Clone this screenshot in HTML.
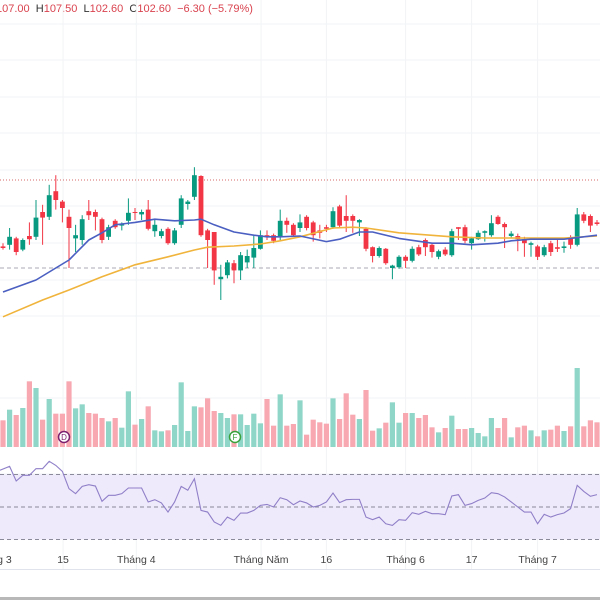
<!DOCTYPE html>
<html><head><meta charset="utf-8">
<style>
html,body{margin:0;padding:0;background:#fff;width:600px;height:600px;overflow:hidden;font-family:"Liberation Sans",sans-serif;}
#hdr{position:absolute;left:-4px;top:3px;font-size:11px;color:#d9434f;white-space:nowrap;}
#hdr b{font-weight:normal;color:#333;}
svg{position:absolute;left:0;top:0;}
</style></head>
<body>
<div id="hdr">107.00 &nbsp;<b>H</b>107.50 &nbsp;<b>L</b>102.60 &nbsp;<b>C</b>102.60 &nbsp;−6.30 (−5.79%)</div>
<svg id="chart" width="600" height="600"></svg>
<script>
const opens=[99.2,99.4,100.2,98.8,100.5,100.4,103.5,102.9,106.1,104.8,102.9,100.2,100.0,103.6,103.5,102.6,100.4,102.4,101.8,102.4,103.5,103.2,103.8,101.1,100.5,101.4,99.6,101.9,104.5,105.4,108.0,101.2,101.0,95.1,95.6,97.1,96.2,97.2,97.8,98.9,100.6,100.6,100.4,102.4,101.9,101.5,102.9,102.2,101.2,101.6,101.6,104.2,103.0,103.0,102.2,101.4,99.1,98.0,98.9,96.5,96.6,97.9,97.4,99.1,100.0,99.4,97.9,98.8,98.1,101.6,101.6,99.6,100.1,100.9,100.6,102.9,102.0,100.5,100.5,100.1,99.4,99.2,98.1,99.6,99.1,99.0,100.2,99.4,103.2,103.0,102.2];
const highs=[99.6,101.5,100.4,100.2,102.2,105.0,104.4,106.9,108.1,105.0,103.8,101.9,103.1,105.0,103.8,102.8,101.9,102.6,102.2,105.2,104.0,103.8,105.0,102.5,101.4,101.6,101.5,105.6,105.0,109.1,108.1,101.4,101.0,96.9,97.5,97.5,98.5,98.8,100.6,101.2,101.2,100.8,103.8,102.8,102.1,103.2,103.1,102.4,101.9,101.9,104.1,104.4,105.6,103.2,102.6,101.6,99.2,99.2,99.0,96.9,98.1,98.1,99.2,99.4,100.2,99.6,98.8,99.1,101.4,101.6,101.9,100.4,101.2,101.2,103.1,103.1,102.2,101.1,100.8,100.4,99.8,99.4,99.4,99.9,100.2,99.8,100.6,104.0,103.5,103.2,102.5];
const lows=[98.8,98.8,98.1,98.6,99.4,100.0,99.4,102.5,103.8,102.2,96.5,98.5,99.4,102.5,101.2,99.6,100.0,101.4,101.2,101.9,102.5,102.5,101.2,100.4,100.2,99.4,99.4,101.5,103.8,105.0,100.4,96.5,94.4,92.5,95.2,94.6,95.0,96.5,96.5,98.8,100.0,99.6,100.0,100.9,100.4,101.0,101.2,99.8,100.2,101.0,101.4,101.6,101.0,100.9,100.5,98.6,97.2,97.8,96.9,95.1,96.4,96.5,97.2,98.0,98.0,97.8,97.6,98.0,97.9,100.0,99.6,98.8,100.0,99.8,100.4,101.9,99.0,100.2,98.6,97.9,97.9,97.5,97.9,98.0,98.5,98.4,98.9,99.2,102.1,101.0,101.8];
const closes=[99.0,100.4,98.5,100.0,100.1,102.8,102.8,105.6,105.0,104.0,101.5,100.6,102.6,103.1,102.9,100.0,101.6,101.6,102.0,103.4,103.4,103.5,101.4,101.9,101.1,99.6,101.2,105.2,104.8,108.1,100.6,100.0,96.2,95.4,97.2,96.2,98.1,98.0,99.0,100.6,100.4,99.9,102.4,101.9,100.6,102.2,101.5,100.6,100.9,101.4,103.6,101.8,102.4,102.4,102.5,98.9,98.0,99.0,97.1,96.8,97.9,97.4,98.9,98.2,99.1,98.5,98.6,98.2,101.1,101.4,99.9,100.2,100.9,101.1,102.1,102.0,101.6,100.8,100.1,99.6,99.6,97.9,99.1,98.5,98.9,99.2,99.4,103.2,102.4,101.8,102.0];
const volumes=[80,112,96,117,197,177,82,144,100,100,197,116,128,102,100,87,77,87,58,167,67,84,122,50,47,50,66,194,48,122,119,146,108,102,87,98,98,66,100,71,144,64,158,64,69,140,37,82,74,70,146,84,161,97,84,171,49,56,73,134,73,102,102,87,96,59,44,57,94,54,54,57,42,32,87,57,87,29,59,64,50,32,50,52,64,48,62,237,62,80,74];
const rsiValues=[72.6,75,66,69.5,69.5,73.6,73.6,78.1,75.6,71.9,61.3,58.2,62.7,63.7,62.9,53.5,57.2,57.2,58.2,61.7,61.7,61.7,53.1,54.5,52.5,46.9,53.1,62.7,60.3,67.4,47.9,46.9,40.8,38.7,43.8,41.8,46.3,46.3,47.9,51.0,51.6,50,55.7,54.5,51.4,53.7,52.5,50,51,53.1,58.6,52.7,54.5,54.7,54.7,43.8,42.2,43.8,39.7,38.7,42.2,41.8,46.5,45.5,47.3,45.9,45.9,45.3,56.8,57.6,51,52.1,54.1,55.5,58.8,58.2,56.2,53.1,50,46.9,46.9,39.7,45.5,43.8,45.3,46.3,49,63.3,59.6,56.6,57.6];
const maFastIdx=[0,5,10,13,15,17,20,23,26,29,30,32,35,38,40,42,45,49,51,54,56,60,65,68,71,75,77,80,85,88,90];
const maFast=[93.5,95.0,97.5,100.0,100.9,101.9,102.2,102.6,102.4,102.5,102.6,101.9,101.0,100.6,100.4,100.4,100.5,99.8,100.1,101.0,101.0,100.2,99.6,99.6,99.4,99.6,99.9,100.1,100.1,100.4,100.6];
const maSlowIdx=[0,6,10,15,20,25,29,31,35,39,42,45,50,53,55,60,68,73,78,85,90];
const maSlow=[90.4,92.5,93.75,95.4,96.9,97.9,98.75,99.1,99.25,99.5,99.9,100.4,101.5,101.6,101.5,100.9,100.4,100.25,100.25,100.25,100.5];
const xLabels=["Tháng 3","15","Tháng 4","Tháng Năm","16","Tháng 6","17","Tháng 7"];
const xLabelIdx=[-1.6,9.1,20.2,39.1,49,61,71,81];
const resistancePrice=107.5, supportPrice=96.5;

const NS="http://www.w3.org/2000/svg";
const svg=document.getElementById('chart');
const xs=i=>3+6.6*i;
const py=p=>240-(p-100)*8;
const vy=v=>447-v/3;
const ry=r=>507-(r-50)*1.625;
function mk(tag,attrs,parent){const e=document.createElementNS(NS,tag);for(const k in attrs)e.setAttribute(k,attrs[k]);(parent||svg).appendChild(e);return e;}

// grid
const g0=mk('g',{});


[24,60,97,133,170,206,243,280,316,398,474,507,539].forEach(y=>{mk('line',{x1:0,x2:600,y1:y,y2:y,stroke:'#f2f3f5','stroke-width':1},g0);});
xLabelIdx.forEach(i=>{const x=xs(i)+ (i<0?0:0);mk('line',{x1:x,x2:x,y1:0,y2:569,stroke:'#f2f3f5','stroke-width':1},g0);});

// RSI band
const band=mk('rect',{x:0,y:ry(70),width:600,height:ry(30)-ry(70),fill:'#efeafb'});


[70,50,30].forEach(v=>{const l=mk('line',{x1:0,x2:600,y1:ry(v),y2:ry(v),stroke:'#8a8a9a','stroke-width':1,'stroke-dasharray':'4 3'});

});

// reference lines
const rl=mk('line',{x1:0,x2:600,y1:py(resistancePrice),y2:py(resistancePrice),stroke:'#d46a6a','stroke-width':1,'stroke-dasharray':'1 2'});


const sl=mk('line',{x1:0,x2:600,y1:py(supportPrice),y2:py(supportPrice),stroke:'#a8a8b4','stroke-width':1,'stroke-dasharray':'4 3'});



// volume
closes.forEach((c,i)=>{const up=c>=opens[i];
const r=mk('rect',{x:xs(i)-2.6,y:vy(volumes[i]),width:5.2,height:447-vy(volumes[i]),fill:up?'#8fd6c8':'#f7a8b0'});

});

// candles
closes.forEach((c,i)=>{const up=c>=opens[i];const col=up?'#089981':'#f23645';
const g=mk('g',{});


mk('line',{x1:xs(i),x2:xs(i),y1:py(highs[i]),y2:py(lows[i]),stroke:col,'stroke-width':1},g);
const top=py(Math.max(c,opens[i])),bot=py(Math.min(c,opens[i]));
mk('rect',{x:xs(i)-2.4,y:top,width:4.8,height:Math.max(1,bot-top),fill:col},g);});

// moving averages
function poly(idx,vals,col,name){const p=mk('polyline',{points:idx.map((k,j)=>xs(k)+','+py(vals[j])).join(' '),fill:'none',stroke:col,'stroke-width':1.6,'stroke-linejoin':'round'});

}
poly(maSlowIdx,maSlow,'#f0b43c','ma-slow-line');
poly(maFastIdx,maFast,'#4a5fc1','ma-fast-line');

// rsi line
const rp=mk('polyline',{points:rsiValues.map((v,i)=>(i==0?0:xs(i))+','+ry(v)).join(' '),fill:'none',stroke:'#8f7fc8','stroke-width':1.1});



// markers
function marker(x,y,t,col,name){const g=mk('g',{});


mk('circle',{cx:x,cy:y,r:5.5,fill:'#fff',stroke:col,'stroke-width':1.5},g);
const tx=mk('text',{x:x,y:y+3,'text-anchor':'middle','font-size':8,fill:col,'font-family':'Liberation Sans, sans-serif'},g);tx.textContent=t;}
marker(64,437,'D','#7b1f6e','dividend-marker');
marker(235,437,'F','#3aa03a','financials-marker');

// axis
const ax=mk('line',{x1:0,x2:600,y1:569.5,y2:569.5,stroke:'#e0e3eb','stroke-width':1});


xLabels.forEach((t,k)=>{const tx=mk('text',{x:xs(xLabelIdx[k]),y:563,'text-anchor':'middle','font-size':10.5,fill:'#444','font-family':'Liberation Sans, sans-serif'});tx.textContent=t;

});
const bt=mk('rect',{x:0,y:597,width:600,height:3,fill:'#b8b8b8'});


</script>
</body></html>
